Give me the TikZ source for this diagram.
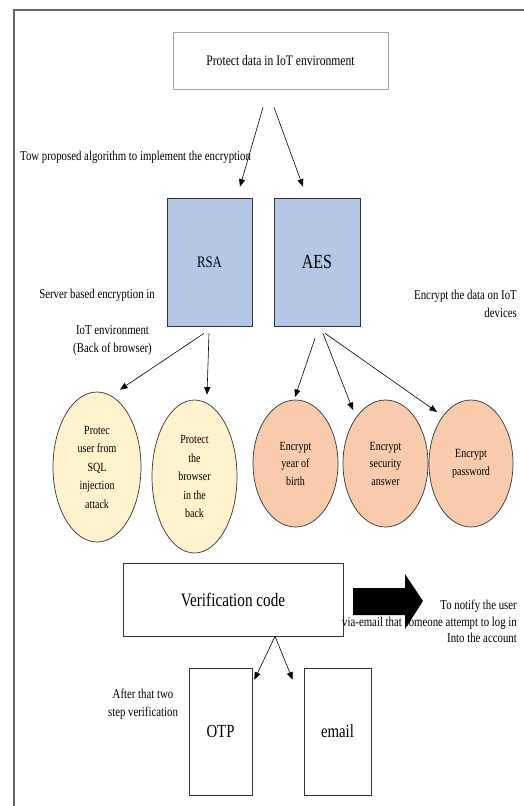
\documentclass[tikz,border=0pt]{standalone}
\usepackage{fontspec}
\setmainfont{Liberation Serif}[FakeStretch=0.8]
\usetikzlibrary{arrows.meta,shapes.geometric}
\definecolor{boxblue}{HTML}{B4C7E7}
\definecolor{pyellow}{HTML}{FFF2CC}
\definecolor{porange}{HTML}{F8CBAD}
\definecolor{framegray}{HTML}{666666}
\newcommand{\fs}[2]{\fontsize{#1}{#2}\selectfont}
\begin{document}
\begin{tikzpicture}[x=1pt,y=-1pt,
  arr/.style={-{Triangle[length=7.5pt,width=6pt]},line width=0.6pt,black},
  plainbox/.style={rectangle,draw=black!80,line width=0.7pt,inner sep=0pt,align=center},
  algbox/.style={plainbox,fill=boxblue},
  yell/.style={ellipse,draw=black!80,line width=0.7pt,fill=pyellow,inner sep=0pt,align=center,font=\fs{12.5}{18.5}},
  oran/.style={ellipse,draw=black!80,line width=0.7pt,fill=porange,inner sep=0pt,align=center,font=\fs{12.5}{17.5}},
  lbl/.style={inner sep=0pt,font=\fs{13.5}{18}}
]
\useasboundingbox (0,0) rectangle (524,806);
% frame
\draw[framegray,line width=1.4pt] (14,808) -- (14,10) -- (526,10);

% top box
\node[rectangle,draw=gray!70,line width=0.7pt,minimum width=215pt,minimum height=57pt,font=\fs{14.5}{18}] (top) at (280.5,60.5) {Protect data in IoT environment};

\node[lbl,anchor=west] (lblalg) at (20,157) {Tow proposed algorithm to implement the encryption};

% algorithm boxes
\node[algbox,minimum width=85pt,minimum height=128pt,font=\fs{16}{18}] (rsa) at (209.5,262) {RSA};
\node[algbox,minimum width=86pt,minimum height=128pt,font=\fs{20}{22}] (aes) at (317,262) {AES};

\node[lbl,anchor=east] (lblserver) at (155,295) {Server based encryption in};
\node[lbl,align=center] (lbliot) at (112.5,340) {IoT environment\\(Back of browser)};
\node[lbl,align=right,anchor=north east] (lbldev) at (517,290) {Encrypt the data on IoT\\devices};

% ellipses
\node[yell,minimum width=88pt,minimum height=150pt] (e1) at (97,467) {Protec\\user from\\SQL\\injection\\attack};
\node[yell,minimum width=85pt,minimum height=153pt] (e2) at (194.5,476.5) {Protect\\the\\browser\\in the\\back};
\node[oran,minimum width=85pt,minimum height=127pt] (o1) at (295.5,463.5) {Encrypt\\year of\\birth};
\node[oran,minimum width=85pt,minimum height=127pt] (o2) at (385.5,463.5) {Encrypt\\security\\answer};
\node[oran,minimum width=84pt,minimum height=127pt] (o3) at (471,463.5) {Encrypt\\password};

% verification
\node[plainbox,minimum width=220pt,minimum height=73pt,font=\fs{19}{22}] (ver) at (233,599.5) {Verification code};
\node[lbl,align=right,anchor=north east,font=\fs{13.5}{16.5}] (lblnotify) at (517,600) {To notify the user\\via-email that someone attempt to log in\\Into the account};
\fill[black] (353,588) -- (405,588) -- (405,574) -- (423,601) -- (405,629) -- (405,615) -- (353,615) -- cycle;

% otp/email
\node[plainbox,minimum width=63pt,minimum height=127pt,font=\fs{18.5}{20}] (otp) at (220.5,731.5) {OTP};
\node[plainbox,minimum width=67pt,minimum height=127pt,font=\fs{18.5}{20}] (email) at (337.5,731.5) {email};
\node[lbl,align=center] (lblafter) at (143,704) {After that two\\step verification};

% connectors
\coordinate (t1) at ([xshift=-17.5pt,yshift=-18pt]top.south);
\coordinate (t2) at ([xshift=-6.5pt,yshift=-18pt]top.south);
\draw[arr] (t1) -- ([xshift=30.5pt,yshift=11pt]rsa.north);
\draw[arr] (t2) -- ([xshift=-14pt,yshift=11pt]aes.north);

\coordinate (r1) at ([xshift=-5.5pt,yshift=-7pt]rsa.south);
\coordinate (r2) at ([xshift=-0.5pt,yshift=-7pt]rsa.south);
\draw[arr] (r1) -- ([xshift=23pt,yshift=2pt]e1.north);
\draw[arr] (r2) -- ([xshift=12.5pt,yshift=5pt]e2.north);

\coordinate (a1) at ([xshift=-2pt,yshift=-12pt]aes.south);
\coordinate (a2) at ([xshift=6pt,yshift=-7pt]aes.south);
\coordinate (a3) at ([xshift=8pt,yshift=-7pt]aes.south);
\draw[arr] (a1) -- (295,397);
\draw[arr] (a2) -- (353,410);
\draw[arr] (a3) -- (437,412);

\coordinate (v1) at ([xshift=42pt]ver.south);
\draw[arr] (v1) -- ([xshift=2pt,yshift=-12pt]otp.north east);
\draw[arr] (v1) -- ([xshift=-11pt,yshift=-12pt]email.north west);
\end{tikzpicture}
\end{document}
